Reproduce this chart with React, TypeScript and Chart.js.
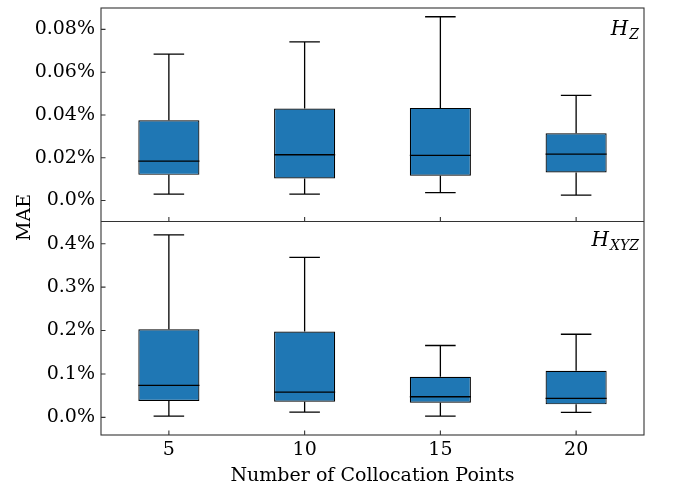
import React, { useEffect, useRef } from "react";
import { Chart, registerables } from "chart.js";

Chart.register(...registerables);

// ---- data (values in percent) ----
const categories = ["5", "10", "15", "20"];

const topMin = [0.003, 0.003, 0.0037, 0.0025];
const topQ1 = [0.012, 0.0103, 0.0116, 0.0131];
const topMed = [0.0184, 0.0214, 0.0211, 0.0217];
const topQ3 = [0.0375, 0.043, 0.0433, 0.0314];
const topMax = [0.0684, 0.0742, 0.0859, 0.0492];

const botMin = [0.003, 0.0122, 0.003, 0.0115];
const botQ1 = [0.0375, 0.0359, 0.0337, 0.0299];
const botMed = [0.0736, 0.0582, 0.0475, 0.0437];
const botQ3 = [0.203, 0.1977, 0.0934, 0.1072];
const botMax = [0.4207, 0.3685, 0.1655, 0.1915];

const topTickValues = [0, 0.02, 0.04, 0.06, 0.08];
const topTickLabels = ["0.0%", "0.02%", "0.04%", "0.06%", "0.08%"];
const botTickValues = [0, 0.1, 0.2, 0.3, 0.4];
const botTickLabels = ["0.0%", "0.1%", "0.2%", "0.3%", "0.4%"];

const FONT = "'DejaVu Serif', 'Liberation Serif', serif";
const BOX_COLOR = "#1f77b4";

const boxPlugin = {
  id: "boxExtras",
  afterDatasetsDraw(chart: any) {
    const ctx = chart.ctx;
    const x = chart.scales.x;
    const area = chart.chartArea;
    const catW = (x.right - x.left) / categories.length;
    const boxW = catW * 0.45;
    const capHalf = boxW / 4;
    const panels = [
      { s: chart.scales.yTop, mn: topMin, q1: topQ1, md: topMed, q3: topQ3, mx: topMax },
      { s: chart.scales.yBot, mn: botMin, q1: botQ1, md: botMed, q3: botQ3, mx: botMax },
    ];
    ctx.save();
    ctx.strokeStyle = "#000";
    ctx.lineWidth = 1.3;
    for (const p of panels) {
      for (let i = 0; i < categories.length; i++) {
        const cx = x.getPixelForValue(i);
        const yMin = p.s.getPixelForValue(p.mn[i]);
        const yQ1 = p.s.getPixelForValue(p.q1[i]);
        const yMd = p.s.getPixelForValue(p.md[i]);
        const yQ3 = p.s.getPixelForValue(p.q3[i]);
        const yMax = p.s.getPixelForValue(p.mx[i]);
        ctx.beginPath();
        ctx.moveTo(cx, yQ3);
        ctx.lineTo(cx, yMax);
        ctx.moveTo(cx - capHalf, yMax);
        ctx.lineTo(cx + capHalf, yMax);
        ctx.moveTo(cx, yQ1);
        ctx.lineTo(cx, yMin);
        ctx.moveTo(cx - capHalf, yMin);
        ctx.lineTo(cx + capHalf, yMin);
        ctx.moveTo(cx - boxW / 2, yMd);
        ctx.lineTo(cx + boxW / 2, yMd);
        ctx.stroke();
      }
    }
    // frame
    ctx.strokeStyle = "#333";
    ctx.lineWidth = 1.1;
    const mid = chart.scales.yTop.bottom;
    ctx.strokeRect(area.left, area.top, area.right - area.left, area.bottom - area.top);
    ctx.beginPath();
    ctx.moveTo(area.left, mid);
    ctx.lineTo(area.right, mid);
    // inward ticks
    const tl = 4.5;
    for (const p of [
      { s: chart.scales.yTop, v: topTickValues },
      { s: chart.scales.yBot, v: botTickValues },
    ]) {
      for (const v of p.v) {
        const yy = p.s.getPixelForValue(v);
        ctx.moveTo(area.left, yy);
        ctx.lineTo(area.left + tl, yy);
      }
    }
    for (let i = 0; i < categories.length; i++) {
      const cx = x.getPixelForValue(i);
      ctx.moveTo(cx, mid);
      ctx.lineTo(cx, mid - tl);
      ctx.moveTo(cx, area.bottom);
      ctx.lineTo(cx, area.bottom - tl);
    }
    ctx.stroke();

    // panel labels
    const drawLabel = (main: string, sub: string, baseY: number) => {
      ctx.fillStyle = "#000";
      ctx.textBaseline = "alphabetic";
      ctx.textAlign = "left";
      ctx.font = `italic 20px ${FONT}`;
      const hW = ctx.measureText(main).width;
      ctx.font = `italic 14px ${FONT}`;
      const sW = ctx.measureText(sub).width;
      const right = area.right - 5;
      const startX = right - sW - hW - 1;
      ctx.font = `italic 20px ${FONT}`;
      ctx.fillText(main, startX, baseY);
      ctx.font = `italic 14px ${FONT}`;
      ctx.fillText(sub, startX + hW + 1, baseY + 4);
    };
    drawLabel("H", "Z", chart.scales.yTop.top + 27);
    drawLabel("H", "XYZ", chart.scales.yBot.top + 24);

    // y axis title
    ctx.save();
    ctx.translate(25, (area.top + area.bottom) / 2 - 4);
    ctx.rotate(-Math.PI / 2);
    ctx.font = `19px ${FONT}`;
    ctx.textAlign = "center";
    ctx.textBaseline = "middle";
    ctx.fillStyle = "#000";
    ctx.fillText("MAE", 0, 0);
    ctx.restore();
    ctx.restore();
  },
};

function yScale(tickValues: number[], tickLabels: string[], min: number, max: number) {
  return {
    type: "linear",
    position: "left",
    stack: "panels",
    stackWeight: 1,
    min,
    max,
    offset: false,
    grid: { display: false, drawTicks: false },
    border: { display: false },
    afterBuildTicks: (scale: any) => {
      scale.ticks = tickValues.map((v) => ({ value: v }));
    },
    afterFit: (scale: any) => {
      scale.width = 101;
      scale.paddingTop = 0;
      scale.paddingBottom = 0;
    },
    ticks: {
      padding: 6,
      color: "#000",
      font: { family: FONT, size: 19 },
      callback: (_v: any, i: number) => tickLabels[i],
    },
  };
}

export default function App() {
  const ref = useRef<HTMLCanvasElement>(null);
  useEffect(() => {
    if (!ref.current) return;
    const common = {
      grouped: false,
      backgroundColor: BOX_COLOR,
      borderColor: "#000",
      borderWidth: 1.2,
      borderSkipped: false,
      barPercentage: 0.45,
      categoryPercentage: 1.0,
      xAxisID: "x",
    };
    const chart = new Chart(ref.current, {
      type: "bar",
      data: {
        labels: categories,
        datasets: [
          { ...common, label: "bottom", yAxisID: "yBot", data: botQ1.map((q, i) => [q, botQ3[i]]) },
          { ...common, label: "top", yAxisID: "yTop", data: topQ1.map((q, i) => [q, topQ3[i]]) },
        ] as any,
      },
      options: {
        responsive: false,
        animation: false,
        layout: { padding: { left: 0, right: 48, top: 8, bottom: 0 } },
        plugins: { legend: { display: false }, tooltip: { enabled: false } },
        scales: {
          x: {
            type: "category",
            offset: true,
            grid: { display: false, drawTicks: false },
            border: { display: false },
            afterFit: (scale: any) => {
              scale.height = 54;
              scale.paddingLeft = 0;
              scale.paddingRight = 0;
            },
            ticks: { padding: 4, color: "#000", font: { family: FONT, size: 19 } },
            title: {
              display: true,
              text: "Number of Collocation Points",
              color: "#000",
              font: { family: FONT, size: 19 },
              padding: { top: 0, bottom: 2 },
            },
          },
          yBot: yScale(botTickValues, botTickLabels, -0.0407, 0.4513),
          yTop: yScale(topTickValues, topTickLabels, -0.0098, 0.09),
        } as any,
      },
      plugins: [boxPlugin],
    });
    return () => chart.destroy();
  }, []);
  return (
    <div style={{ position: "fixed", left: 0, top: 0, width: 692, height: 489, background: "#fff" }}>
      <canvas ref={ref} width={692} height={489} style={{ display: "block" }} />
    </div>
  );
}
